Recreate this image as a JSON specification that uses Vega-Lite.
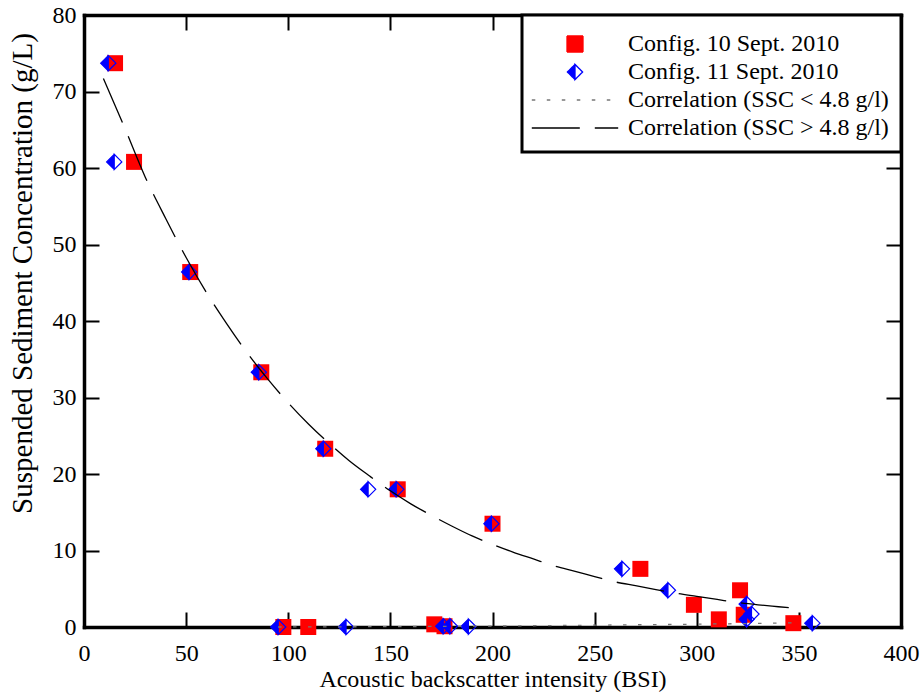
{
  "$schema": "https://vega.github.io/schema/vega-lite/v6.json",
  "width": 817,
  "height": 612,
  "autosize": "none",
  "padding": {"left": 84, "top": 15, "right": 21, "bottom": 68},
  "background": "white",
  "config": {
    "view": {"stroke": null},
    "font": "Liberation Serif",
    "axis": {
      "grid": false,
      "domainColor": "black",
      "domainWidth": 3.5,
      "domainCap": "square",
      "tickColor": "black",
      "tickWidth": 2,
      "tickSize": -15,
      "labelFont": "Liberation Serif",
      "labelFontSize": 24,
      "labelColor": "black",
      "labelFlush": false,
      "titleFont": "Liberation Serif",
      "titleFontWeight": "normal",
      "titleColor": "black",
      "zindex": 1
    },
    "legend": {
      "orient": "top-right",
      "offset": 0,
      "padding": 12,
      "strokeColor": "black",
      "strokeWidth": 3,
      "fillColor": "white",
      "labelFont": "Liberation Serif",
      "labelFontSize": 24,
      "labelColor": "black",
      "labelLimit": 500,
      "rowPadding": 4,
      "symbolOffset": 29,
      "labelOffset": 41,
      "symbolSize": 256,
      "symbolStrokeWidth": 1.3,
      "symbolOpacity": 1
    }
  },
  "datasets": {
    "cfg10": [
      {"series": "Config. 10 Sept. 2010", "bsi": 15.2, "ssc": 73.7},
      {"series": "Config. 10 Sept. 2010", "bsi": 24.5, "ssc": 60.8},
      {"series": "Config. 10 Sept. 2010", "bsi": 52.0, "ssc": 46.4},
      {"series": "Config. 10 Sept. 2010", "bsi": 86.8, "ssc": 33.3},
      {"series": "Config. 10 Sept. 2010", "bsi": 118.1, "ssc": 23.3},
      {"series": "Config. 10 Sept. 2010", "bsi": 153.6, "ssc": 18.0},
      {"series": "Config. 10 Sept. 2010", "bsi": 200.0, "ssc": 13.5},
      {"series": "Config. 10 Sept. 2010", "bsi": 272.4, "ssc": 7.6},
      {"series": "Config. 10 Sept. 2010", "bsi": 298.6, "ssc": 2.9},
      {"series": "Config. 10 Sept. 2010", "bsi": 310.8, "ssc": 1.0},
      {"series": "Config. 10 Sept. 2010", "bsi": 321.2, "ssc": 4.8},
      {"series": "Config. 10 Sept. 2010", "bsi": 323.0, "ssc": 1.6},
      {"series": "Config. 10 Sept. 2010", "bsi": 347.3, "ssc": 0.5},
      {"series": "Config. 10 Sept. 2010", "bsi": 97.6, "ssc": 0.0},
      {"series": "Config. 10 Sept. 2010", "bsi": 109.8, "ssc": 0.0},
      {"series": "Config. 10 Sept. 2010", "bsi": 171.5, "ssc": 0.35},
      {"series": "Config. 10 Sept. 2010", "bsi": 176.5, "ssc": 0.1}
    ],
    "cfg11": [
      {"series": "Config. 11 Sept. 2010", "bsi": 11.9, "ssc": 73.7},
      {"series": "Config. 11 Sept. 2010", "bsi": 14.8, "ssc": 60.8},
      {"series": "Config. 11 Sept. 2010", "bsi": 51.5, "ssc": 46.4},
      {"series": "Config. 11 Sept. 2010", "bsi": 85.6, "ssc": 33.3},
      {"series": "Config. 11 Sept. 2010", "bsi": 117.2, "ssc": 23.3},
      {"series": "Config. 11 Sept. 2010", "bsi": 139.1, "ssc": 18.0},
      {"series": "Config. 11 Sept. 2010", "bsi": 152.9, "ssc": 18.0},
      {"series": "Config. 11 Sept. 2010", "bsi": 199.5, "ssc": 13.5},
      {"series": "Config. 11 Sept. 2010", "bsi": 263.4, "ssc": 7.6},
      {"series": "Config. 11 Sept. 2010", "bsi": 285.9, "ssc": 4.8},
      {"series": "Config. 11 Sept. 2010", "bsi": 324.4, "ssc": 3.0},
      {"series": "Config. 11 Sept. 2010", "bsi": 326.8, "ssc": 1.7},
      {"series": "Config. 11 Sept. 2010", "bsi": 324.4, "ssc": 1.0},
      {"series": "Config. 11 Sept. 2010", "bsi": 356.6, "ssc": 0.5},
      {"series": "Config. 11 Sept. 2010", "bsi": 95.1, "ssc": 0.0},
      {"series": "Config. 11 Sept. 2010", "bsi": 128.3, "ssc": 0.0},
      {"series": "Config. 11 Sept. 2010", "bsi": 175.9, "ssc": 0.1},
      {"series": "Config. 11 Sept. 2010", "bsi": 179.2, "ssc": 0.1},
      {"series": "Config. 11 Sept. 2010", "bsi": 188.2, "ssc": 0.05}
    ],
    "fitLow": [
      {"series": "Correlation (SSC < 4.8 g/l)", "bsi": 95, "ssc": 0.0},
      {"series": "Correlation (SSC < 4.8 g/l)", "bsi": 150, "ssc": 0.05},
      {"series": "Correlation (SSC < 4.8 g/l)", "bsi": 200, "ssc": 0.12},
      {"series": "Correlation (SSC < 4.8 g/l)", "bsi": 250, "ssc": 0.24},
      {"series": "Correlation (SSC < 4.8 g/l)", "bsi": 300, "ssc": 0.37},
      {"series": "Correlation (SSC < 4.8 g/l)", "bsi": 350, "ssc": 0.55}
    ],
    "fitHigh": [
      {"series": "Correlation (SSC > 4.8 g/l)", "bsi": 9.5, "ssc": 71.7},
      {"series": "Correlation (SSC > 4.8 g/l)", "bsi": 20, "ssc": 65.2},
      {"series": "Correlation (SSC > 4.8 g/l)", "bsi": 30, "ssc": 58.8},
      {"series": "Correlation (SSC > 4.8 g/l)", "bsi": 40, "ssc": 53.4},
      {"series": "Correlation (SSC > 4.8 g/l)", "bsi": 50, "ssc": 48.3},
      {"series": "Correlation (SSC > 4.8 g/l)", "bsi": 60, "ssc": 43.7},
      {"series": "Correlation (SSC > 4.8 g/l)", "bsi": 70, "ssc": 39.6},
      {"series": "Correlation (SSC > 4.8 g/l)", "bsi": 80, "ssc": 35.8},
      {"series": "Correlation (SSC > 4.8 g/l)", "bsi": 90, "ssc": 32.4},
      {"series": "Correlation (SSC > 4.8 g/l)", "bsi": 100, "ssc": 29.3},
      {"series": "Correlation (SSC > 4.8 g/l)", "bsi": 110, "ssc": 26.5},
      {"series": "Correlation (SSC > 4.8 g/l)", "bsi": 120, "ssc": 24.0},
      {"series": "Correlation (SSC > 4.8 g/l)", "bsi": 130, "ssc": 21.7},
      {"series": "Correlation (SSC > 4.8 g/l)", "bsi": 140, "ssc": 19.7},
      {"series": "Correlation (SSC > 4.8 g/l)", "bsi": 150, "ssc": 17.8},
      {"series": "Correlation (SSC > 4.8 g/l)", "bsi": 160, "ssc": 16.1},
      {"series": "Correlation (SSC > 4.8 g/l)", "bsi": 170, "ssc": 14.6},
      {"series": "Correlation (SSC > 4.8 g/l)", "bsi": 180, "ssc": 13.2},
      {"series": "Correlation (SSC > 4.8 g/l)", "bsi": 190, "ssc": 11.9},
      {"series": "Correlation (SSC > 4.8 g/l)", "bsi": 200, "ssc": 10.8},
      {"series": "Correlation (SSC > 4.8 g/l)", "bsi": 210, "ssc": 9.8},
      {"series": "Correlation (SSC > 4.8 g/l)", "bsi": 220, "ssc": 8.9},
      {"series": "Correlation (SSC > 4.8 g/l)", "bsi": 230, "ssc": 8.0},
      {"series": "Correlation (SSC > 4.8 g/l)", "bsi": 240, "ssc": 7.3},
      {"series": "Correlation (SSC > 4.8 g/l)", "bsi": 250, "ssc": 6.6},
      {"series": "Correlation (SSC > 4.8 g/l)", "bsi": 260, "ssc": 5.9},
      {"series": "Correlation (SSC > 4.8 g/l)", "bsi": 270, "ssc": 5.4},
      {"series": "Correlation (SSC > 4.8 g/l)", "bsi": 280, "ssc": 4.9},
      {"series": "Correlation (SSC > 4.8 g/l)", "bsi": 290, "ssc": 4.4},
      {"series": "Correlation (SSC > 4.8 g/l)", "bsi": 300, "ssc": 4.0},
      {"series": "Correlation (SSC > 4.8 g/l)", "bsi": 310, "ssc": 3.6},
      {"series": "Correlation (SSC > 4.8 g/l)", "bsi": 320, "ssc": 3.2},
      {"series": "Correlation (SSC > 4.8 g/l)", "bsi": 330, "ssc": 2.9},
      {"series": "Correlation (SSC > 4.8 g/l)", "bsi": 340, "ssc": 2.65},
      {"series": "Correlation (SSC > 4.8 g/l)", "bsi": 350, "ssc": 2.4}
    ]
  },
  "resolve": {"axis": {"x": "independent", "y": "independent"}},
  "layer": [
    {
      "data": {"name": "cfg10"},
      "mark": {"type": "point", "filled": true, "size": 256, "opacity": 1},
      "encoding": {
        "x": {"field": "bsi", "type": "quantitative", "scale": {"domain": [0, 400], "nice": false, "zero": false},
          "axis": {"orient": "bottom", "values": [0, 50, 100, 150, 200, 250, 300, 350, 400], "title": "Acoustic backscatter intensity (BSI)", "titleFontSize": 24, "labelPadding": 29, "titlePadding": 2}},
        "y": {"field": "ssc", "type": "quantitative", "scale": {"domain": [0, 80], "nice": false, "zero": false},
          "axis": {"orient": "left", "values": [0, 10, 20, 30, 40, 50, 60, 70, 80], "title": "Suspended Sediment Concentration (g/L)", "titleFontSize": 29, "labelPadding": 23, "titlePadding": 15, "titleY": 258}},
        "color": {"field": "series", "type": "nominal",
          "scale": {"domain": ["Config. 10 Sept. 2010", "Config. 11 Sept. 2010", "Correlation (SSC < 4.8 g/l)", "Correlation (SSC > 4.8 g/l)"], "range": ["#ff0000", "#0000ff", "#777777", "#000000"]},
          "legend": {"title": " ", "titleFontSize": 1, "titlePadding": 4}},
        "shape": {"field": "series", "type": "nominal",
          "scale": {"domain": ["Config. 10 Sept. 2010", "Config. 11 Sept. 2010", "Correlation (SSC < 4.8 g/l)", "Correlation (SSC > 4.8 g/l)"], "range": ["M-1,-1H1V1H-1Z", "M-0.95,0L0,-0.95L0.95,0L0,0.95ZM0,-0.95L0,0.95L0.95,0Z", "M-5.4,0H5.4", "M-5.4,0H5.4"]},
          "legend": {"title": " ", "titleFontSize": 1, "titlePadding": 4}}
      }
    },
    {
      "data": {"name": "cfg11"},
      "mark": {"type": "point", "filled": true, "size": 256, "opacity": 1, "stroke": "#0000ff", "strokeWidth": 1.2},
      "encoding": {
        "x": {"field": "bsi", "type": "quantitative", "axis": {"orient": "top", "values": [0, 50, 100, 150, 200, 250, 300, 350, 400], "labels": false, "title": null}},
        "y": {"field": "ssc", "type": "quantitative", "axis": {"orient": "right", "values": [0, 10, 20, 30, 40, 50, 60, 70, 80], "labels": false, "title": null}},
        "color": {"field": "series", "type": "nominal", "legend": {"title": " ", "titleFontSize": 1, "titlePadding": 4}},
        "shape": {"field": "series", "type": "nominal", "legend": {"title": " ", "titleFontSize": 1, "titlePadding": 4}}
      }
    },
    {
      "data": {"name": "fitLow"},
      "mark": {"type": "line", "strokeWidth": 1.3, "interpolate": "monotone"},
      "encoding": {
        "x": {"field": "bsi", "type": "quantitative", "axis": null},
        "y": {"field": "ssc", "type": "quantitative", "axis": null},
        "color": {"field": "series", "type": "nominal", "legend": {"title": " ", "titleFontSize": 1, "titlePadding": 4}},
        "strokeDash": {"field": "series", "type": "nominal",
          "scale": {"domain": ["Config. 10 Sept. 2010", "Config. 11 Sept. 2010", "Correlation (SSC < 4.8 g/l)", "Correlation (SSC > 4.8 g/l)"], "range": [[1, 0], [1, 0], [3.5, 11.5], [48, 15]]},
          "legend": {"title": " ", "titleFontSize": 1, "titlePadding": 4}}
      }
    },
    {
      "data": {"name": "fitHigh"},
      "mark": {"type": "line", "strokeWidth": 1.3, "interpolate": "monotone"},
      "encoding": {
        "x": {"field": "bsi", "type": "quantitative", "axis": null},
        "y": {"field": "ssc", "type": "quantitative", "axis": null},
        "color": {"field": "series", "type": "nominal", "legend": {"title": " ", "titleFontSize": 1, "titlePadding": 4}},
        "strokeDash": {"field": "series", "type": "nominal", "legend": {"title": " ", "titleFontSize": 1, "titlePadding": 4}}
      }
    }
  ]
}
